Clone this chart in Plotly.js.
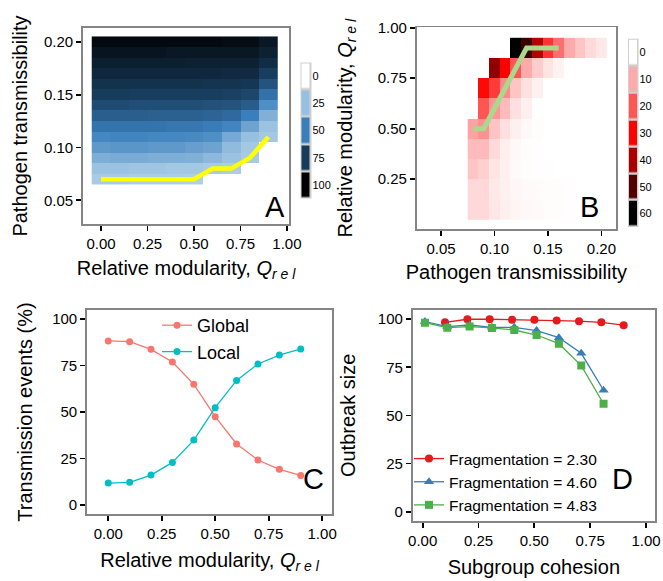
<!DOCTYPE html>
<html>
<head>
<meta charset="utf-8">
<script src="https://cdn.plot.ly/plotly-3.0.1.min.js"></script>
<style>html,body{margin:0;padding:0;background:#fff;}#chart{width:663px;height:581px;}</style>
</head>
<body>
<div id="chart"></div>
<script>
// ---------- Panel A: outbreak size heatmap ----------
var aQrel = [0, 0.1, 0.2, 0.3, 0.4, 0.5, 0.6, 0.7, 0.8, 0.9];
var aTrans = [0.07, 0.08, 0.09, 0.10, 0.11, 0.12, 0.13, 0.14, 0.15, 0.16, 0.17, 0.18, 0.19, 0.20];
var aSize = [
  [21, 21, 20, 20, 20, 19, null, null, null, null],
  [24, 24, 23, 23, 22, 22, 21, 20, null, null],
  [32, 33, 33, 32, 32, 31, 28, 24, 21, null],
  [40, 41, 41, 40, 40, 38, 36, 27, 22, null],
  [47, 48, 48, 47, 47, 46, 44, 34, 25, 22],
  [54, 54, 54, 54, 53, 53, 51, 48, 36, 24],
  [62, 62, 62, 61, 61, 61, 60, 58, 50, 31],
  [69, 69, 68, 68, 68, 68, 67, 66, 63, 44],
  [75, 75, 74, 74, 74, 74, 74, 73, 71, 55],
  [79, 79, 79, 79, 79, 79, 78, 78, 77, 66],
  [83, 83, 83, 83, 83, 83, 83, 82, 82, 74],
  [87, 87, 87, 87, 87, 86, 86, 86, 86, 81],
  [91, 91, 91, 91, 90, 90, 90, 90, 90, 86],
  [96, 96, 96, 96, 96, 96, 96, 95, 95, 90]
];
var aThreshQ = [0, 0.1, 0.2, 0.3, 0.4, 0.5, 0.6, 0.7, 0.8, 0.9];
var aThreshT = [0.07, 0.07, 0.07, 0.07, 0.07, 0.07, 0.08, 0.08, 0.09, 0.11];
var aKeyVals = [0, 25, 50, 75, 100];
var aKeyLabels = ['0', '25', '50', '75', '100'];

// ---------- Panel B: heatmap ----------
var bTrans = [0.08, 0.09, 0.10, 0.11, 0.12, 0.13, 0.14, 0.15, 0.16, 0.17, 0.18, 0.19, 0.20];
var bQrel = [0.1, 0.2, 0.3, 0.4, 0.5, 0.6, 0.7, 0.8, 0.9];
var bVal = [
  [4.5, 4.5, 3.0, 1.8, 1.2, 0.8, 0.6, 0.4, 0.3, 0.2, null, null, null],
  [4.5, 4.5, 2.7, 1.8, 1.0, 0.7, 0.5, 0.4, 0.3, 0.2, null, null, null],
  [7.0, 5.5, 3.2, 1.8, 0.6, 0.3, 0.2, 0.1, null, null, null, null, null],
  [8.0, 8.0, 4.3, 2.0, 0.8, 0.3, 0.2, null, null, null, null, null, null],
  [11, 13, 7.0, 3.8, 1.8, 0.8, 0.3, null, null, null, null, null, null],
  [null, 20, 12.5, 8.0, 3.6, 1.8, null, null, null, null, null, null, null],
  [null, 29, 23, 14, 7.0, 3.6, 1.8, null, null, null, null, null, null],
  [null, null, 43, 30, 20, 10, 6.0, 3.2, 1.5, null, null, null, null],
  [null, null, null, null, 60, 53, 39, 24, 17, 10, 7.0, 4.3, 2.7]
];
var bLineT = [0.08, 0.09, 0.10, 0.11, 0.12, 0.13, 0.14, 0.15, 0.16];
var bLineQ = [0.5, 0.5, 0.6, 0.7, 0.8, 0.9, 0.9, 0.9, 0.9];
var bKeyVals = [0, 10, 20, 30, 40, 50, 60];
var bKeyLabels = ['0', '10', '20', '30', '40', '50', '60'];

// ---------- Panel C: transmission events ----------
var cQrel = [0, 0.1, 0.2, 0.3, 0.4, 0.5, 0.6, 0.7, 0.8, 0.9];
var cGlobal = [88.2, 87.8, 83.7, 76.9, 64.9, 47.5, 32.8, 24.2, 19.2, 15.9];
var cLocal = [11.8, 12.2, 16.1, 22.9, 34.9, 52.3, 67.0, 75.8, 80.6, 83.9];

// ---------- Panel D: outbreak size vs cohesion ----------
var dCoh230 = [0.1, 0.2, 0.3, 0.4, 0.5, 0.6, 0.7, 0.8, 0.9];
var dSize230 = [98.4, 100, 100, 99.7, 99.7, 99.3, 99.0, 98.4, 96.9];
var dCoh460 = [0.01, 0.11, 0.21, 0.31, 0.41, 0.51, 0.61, 0.71, 0.81];
var dSize460 = [98.8, 96.2, 97.0, 95.8, 95.8, 94.1, 90.4, 82.3, 63.1];
var dCoh483 = [0.01, 0.11, 0.21, 0.31, 0.41, 0.51, 0.61, 0.71, 0.81];
var dSize483 = [98.2, 95.6, 96.2, 95.5, 94.4, 91.8, 87.3, 75.9, 56.1];

// ---------- styling ----------
var FONT = 'Liberation Sans, Arial, Helvetica, sans-serif';
var W = 663, H = 581;
function px(x) { return x / W; }
function py(y) { return 1 - y / H; }

var csA = [[0, '#ffffff'], [0.25, '#97c0e0'], [0.5, '#3a7fbc'], [0.75, '#173b5b'], [1, '#000000']];
var csB = [[0, '#ffffff'], [1/6, '#ffaaaa'], [2/6, '#ff5555'], [3/6, '#ff0000'], [4/6, '#aa0000'], [5/6, '#550000'], [1, '#000000']];

function axis(domain, range, extra) {
  var a = {
    domain: domain, range: range, showgrid: false, zeroline: false,
    showline: true, mirror: true, linecolor: '#858585', linewidth: 1.8,
    ticks: 'outside', ticklen: 5, tickwidth: 1.8, tickcolor: '#000',
    tickfont: {family: FONT, size: 15, color: '#000'}, fixedrange: true
  };
  for (var k in extra) a[k] = extra[k];
  return a;
}
function ttl(text, standoff) {
  return {text: text, font: {family: FONT, size: 20, color: '#000'}, standoff: standoff};
}
var qrel = 'Relative modularity, <i>Q</i><sub><i>r e l</i></sub>';

var traces = [
  {type: 'heatmap', x: aQrel, y: aTrans, z: aSize, colorscale: csA, zmin: 0, zmax: 100,
   showscale: false, zsmooth: false, xaxis: 'x', yaxis: 'y', hoverongaps: false},
  {type: 'scatter', mode: 'lines', x: aThreshQ, y: aThreshT, line: {color: '#ffff00', width: 4.5},
   showlegend: false, xaxis: 'x', yaxis: 'y'},
  {type: 'heatmap', x: [0], y: [0, 1, 2, 3, 4], z: aKeyVals.map(function (v) { return [v]; }),
   colorscale: csA, zmin: 0, zmax: 100, showscale: false, xgap: 3, ygap: 2.5,
   xaxis: 'x5', yaxis: 'y5', hoverinfo: 'skip'},

  {type: 'heatmap', x: bTrans, y: bQrel, z: bVal, colorscale: csB, zmin: 0, zmax: 60,
   showscale: false, zsmooth: false, xaxis: 'x2', yaxis: 'y2', hoverongaps: false},
  {type: 'scatter', mode: 'lines', x: bLineT, y: bLineQ, line: {color: '#a8d98c', width: 5},
   showlegend: false, xaxis: 'x2', yaxis: 'y2'},
  {type: 'heatmap', x: [0], y: [0, 1, 2, 3, 4, 5, 6], z: bKeyVals.map(function (v) { return [v]; }),
   colorscale: csB, zmin: 0, zmax: 60, showscale: false, xgap: 3, ygap: 2.5,
   xaxis: 'x6', yaxis: 'y6', hoverinfo: 'skip'},

  {type: 'scatter', mode: 'lines+markers', name: 'Global', x: cQrel, y: cGlobal,
   line: {color: '#f8766d', width: 1.3}, marker: {color: '#f8766d', size: 7},
   xaxis: 'x3', yaxis: 'y3', legend: 'legend'},
  {type: 'scatter', mode: 'lines+markers', name: 'Local', x: cQrel, y: cLocal,
   line: {color: '#00bfc4', width: 1.3}, marker: {color: '#00bfc4', size: 7},
   xaxis: 'x3', yaxis: 'y3', legend: 'legend'},

  {type: 'scatter', mode: 'lines+markers', name: 'Fragmentation = 2.30', x: dCoh230, y: dSize230,
   line: {color: '#e41a1c', width: 1.3}, marker: {color: '#e41a1c', size: 8, symbol: 'circle'},
   xaxis: 'x4', yaxis: 'y4', legend: 'legend2'},
  {type: 'scatter', mode: 'lines+markers', name: 'Fragmentation = 4.60', x: dCoh460, y: dSize460,
   line: {color: '#377eb8', width: 1.3}, marker: {color: '#377eb8', size: 9, symbol: 'triangle-up'},
   xaxis: 'x4', yaxis: 'y4', legend: 'legend2'},
  {type: 'scatter', mode: 'lines+markers', name: 'Fragmentation = 4.83', x: dCoh483, y: dSize483,
   line: {color: '#4daf4a', width: 1.3}, marker: {color: '#4daf4a', size: 8, symbol: 'square'},
   xaxis: 'x4', yaxis: 'y4', legend: 'legend2'}
];

var layout = {
  width: W, height: H, margin: {l: 0, r: 0, t: 0, b: 0},
  paper_bgcolor: '#fff', plot_bgcolor: '#fff',
  font: {family: FONT, color: '#000'},
  showlegend: true,
  xaxis: axis([px(83), px(289)], [-0.097, 1.011], {anchor: 'y', tickvals: [0, 0.25, 0.5, 0.75, 1], tickformat: '.2f', title: ttl(qrel, 10)}),
  yaxis: axis([py(224), py(28)], [0.0276, 0.2130], {anchor: 'x', tickvals: [0.05, 0.10, 0.15, 0.20], tickformat: '.2f', title: ttl('Pathogen transmissibility', 11)}),
  xaxis2: axis([px(416.7), px(616)], [0.0273, 0.2136], {anchor: 'y2', tickvals: [0.05, 0.10, 0.15, 0.20], tickformat: '.2f', title: ttl('Pathogen transmissibility', 9)}),
  yaxis2: axis([py(229), py(27.3)], [0.0035, 1.002], {anchor: 'x2', tickvals: [0.25, 0.5, 0.75, 1], tickformat: '.2f', title: ttl(qrel, 20)}),
  xaxis3: axis([px(87), px(332)], [-0.0993, 1.0462], {anchor: 'y3', tickvals: [0, 0.25, 0.5, 0.75, 1], tickformat: '.2f', title: ttl(qrel, 12)}),
  yaxis3: axis([py(514), py(310)], [-4.84, 104.84], {anchor: 'x3', tickvals: [0, 25, 50, 75, 100], title: ttl('Transmission events (%)', 14)}),
  xaxis4: axis([px(412.7), px(655)], [-0.0448, 1.0403], {anchor: 'y4', tickvals: [0, 0.25, 0.5, 0.75, 1], tickformat: '.2f', title: ttl('Subgroup cohesion', 12)}),
  yaxis4: axis([py(520.7), py(310)], [-4.7, 104.8], {anchor: 'x4', tickvals: [0, 25, 50, 75, 100], title: ttl('Outbreak size', 17)}),
  xaxis5: {domain: [px(300.5), px(311.5)], range: [-0.5, 0.5], anchor: 'y5', visible: false, fixedrange: true},
  yaxis5: {domain: [py(198.5), py(62.5)], range: [4.5, -0.5], anchor: 'x5', side: 'right', showgrid: false, zeroline: false,
           showline: false, ticks: '', tickvals: [0, 1, 2, 3, 4], ticktext: aKeyLabels,
           tickfont: {family: FONT, size: 11, color: '#000'}, fixedrange: true},
  xaxis6: {domain: [px(628), px(638.5)], range: [-0.5, 0.5], anchor: 'y6', visible: false, fixedrange: true},
  yaxis6: {domain: [py(227), py(38.7)], range: [6.5, -0.5], anchor: 'x6', side: 'right', showgrid: false, zeroline: false,
           showline: false, ticks: '', tickvals: [0, 1, 2, 3, 4, 5, 6], ticktext: bKeyLabels,
           tickfont: {family: FONT, size: 11, color: '#000'}, fixedrange: true},
  shapes: [
    {type: 'rect', xref: 'paper', yref: 'paper', x0: px(300.5), x1: px(311.5), y0: py(198.5), y1: py(62.5),
     fillcolor: '#cfcfcf', line: {width: 0}, layer: 'below'},
    {type: 'rect', xref: 'paper', yref: 'paper', x0: px(628), x1: px(638.5), y0: py(227), y1: py(38.7),
     fillcolor: '#cfcfcf', line: {width: 0}, layer: 'below'}
  ],
  legend: {x: px(157), y: py(307), xanchor: 'left', yanchor: 'top', bgcolor: 'rgba(0,0,0,0)', itemwidth: 30,
           font: {family: FONT, size: 18, color: '#000'}},
  legend2: {x: px(409), y: py(442), xanchor: 'left', yanchor: 'top', bgcolor: 'rgba(0,0,0,0)', itemwidth: 30,
            font: {family: FONT, size: 15.5, color: '#000'}},
  annotations: [
    {text: 'A', xref: 'paper', yref: 'paper', x: px(275), y: py(207), showarrow: false, font: {family: FONT, size: 29, color: '#000'}},
    {text: 'B', xref: 'paper', yref: 'paper', x: px(601), y: py(207), showarrow: false, font: {family: FONT, size: 29, color: '#000'}},
    {text: 'C', xref: 'paper', yref: 'paper', x: px(313), y: py(497), showarrow: false, font: {family: FONT, size: 29, color: '#000'}},
    {text: 'D', xref: 'paper', yref: 'paper', x: px(635), y: py(497), showarrow: false, font: {family: FONT, size: 29, color: '#000'}}
  ]
};

Plotly.newPlot('chart', traces, layout, {displayModeBar: false, staticPlot: true});
</script>
</body>
</html>
